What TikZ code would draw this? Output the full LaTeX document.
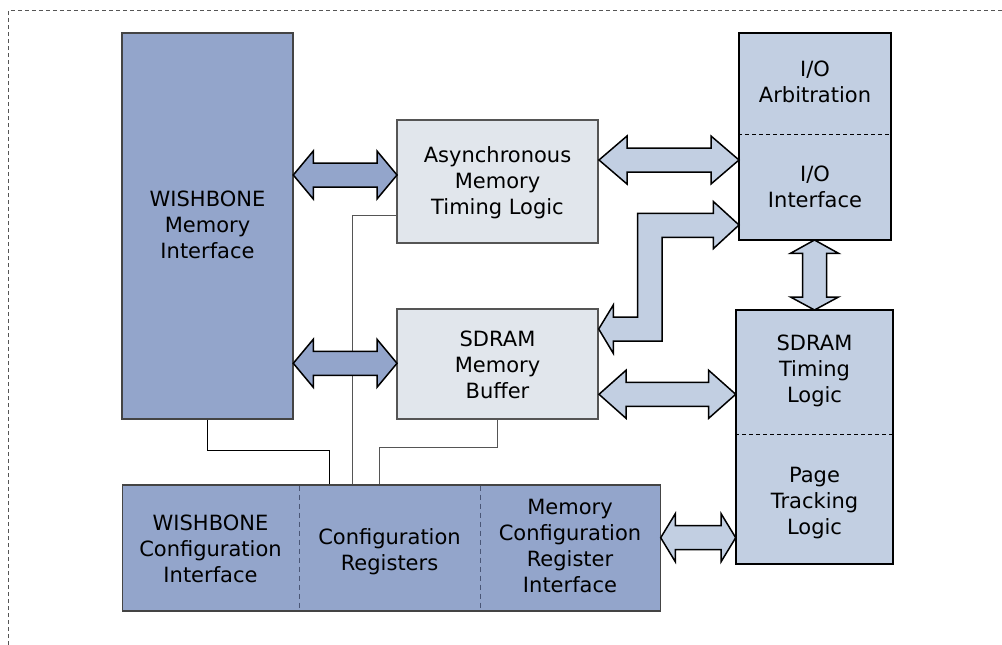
\documentclass[tikz,border=0pt]{standalone}
\usepackage{fontspec}
\setmainfont{DejaVu Sans}
\usetikzlibrary{calc}
\definecolor{darkblue}{HTML}{93A5CB}
\definecolor{lightblue}{HTML}{C2CFE2}
\definecolor{lightgray}{HTML}{E1E6EC}
\definecolor{edgegray}{HTML}{444444}
\definecolor{linegray}{HTML}{555555}
\definecolor{divblue}{HTML}{4A5676}
% horizontal double block arrow: x1, x2, y, head length
\newcommand{\hblockarrow}[5]{%
  \draw[blockarrow, fill=#5] (#1,#3) -- ({#1+#4},{#3-24}) -- ({#1+#4},{#3-12}) -- ({#2-#4},{#3-12}) -- ({#2-#4},{#3-24}) -- (#2,#3) -- ({#2-#4},{#3+24}) -- ({#2-#4},{#3+12}) -- ({#1+#4},{#3+12}) -- ({#1+#4},{#3+24}) -- cycle;}
\tikzset{
  box/.style={draw=edgegray, line width=1.2pt, inner sep=0pt, align=center},
  txt/.style={align=center, font=\fontsize{21}{26}\selectfont, inner sep=0pt},
  blockarrow/.style={draw=black, line width=1.5pt, line join=miter},
  wire/.style={line width=1pt},
}
\begin{document}
\begin{tikzpicture}[x=1pt,y=-1pt]
\useasboundingbox (0,0) rectangle (1002,645);
% outer dashed frame
\draw[linegray, line width=1pt, dash pattern=on 4pt off 3pt] (8.5,645) -- (8.5,10.5) -- (1002,10.5);

% boxes
\node[box, fill=darkblue, minimum width=171pt, minimum height=386pt] (wmi) at (207.5,226) {};
\node[txt] (wmit) at (207.5,225) {WISHBONE\\Memory\\Interface};

\node[box, draw=linegray, fill=lightgray, minimum width=201pt, minimum height=123pt] (async) at (497.5,181.5) {};
\node[txt] (asynct) at (497.5,183) {Asynchronous\\Memory\\Timing Logic};

\node[box, draw=linegray, fill=lightgray, minimum width=201pt, minimum height=110pt] (buf) at (497.5,364) {};
\node[txt] (buft) at (497.5,365) {SDRAM\\Memory\\Buffer};

\node[box, draw=black, fill=lightblue, minimum width=152pt, minimum height=207pt] (io) at (815,136.5) {};
\draw[black, line width=0.8pt, dash pattern=on 4pt off 3pt] (io.west |- 0,134) -- (io.east |- 0,134);
\node[txt] (ioa) at (815,82) {I/O\\Arbitration};
\node[txt] (ioi) at (815,187) {I/O\\Interface};

\node[box, draw=black, fill=lightblue, minimum width=157pt, minimum height=254pt] (sdt) at (814.5,437) {};
\draw[black, line width=0.8pt, dash pattern=on 4pt off 3pt] (sdt.west |- 0,434) -- (sdt.east |- 0,434);
\node[txt] (sdtt) at (814.5,371) {SDRAM\\Timing\\Logic};
\node[txt] (ptl) at (814.5,503) {Page\\Tracking\\Logic};

\node[box, fill=darkblue, minimum width=538pt, minimum height=126pt] (cfg) at (391.5,548) {};
\draw[divblue, line width=1pt, dash pattern=on 5pt off 4pt] (299,485.5) -- (299,610.5);
\draw[divblue, line width=1pt, dash pattern=on 5pt off 4pt] (480,485.5) -- (480,610.5);
\node[txt] (wci) at (210.5,549) {WISHBONE\\Configuration\\Interface};
\node[txt] (cr) at (389.5,552) {Configuration\\Registers};
\node[txt] (mcri) at (570,546) {Memory\\Configuration\\Register\\Interface};

% wires
\coordinate (c1) at (329.3,484.4);
\coordinate (c2) at (352.7,484.4);
\coordinate (c3) at (379.3,484.4);
\coordinate (a1) at (396.4,215.7);
\draw[wire, black] (wmi.south) -- ++(0,31) -| (c1);
\draw[wire, linegray] (a1) -| (c2);
\draw[wire, linegray] (buf.south) -- ++(0,28) -| (c3);

% block arrows
\hblockarrow{293.3}{397}{175}{20}{darkblue}
\hblockarrow{293.3}{397}{363.3}{20}{darkblue}
\hblockarrow{599}{739}{160}{28}{lightblue}
\hblockarrow{599}{735.7}{394.3}{27}{lightblue}
\hblockarrow{660.7}{735.7}{537.7}{14.6}{lightblue}
% vertical double arrow io <-> sdt
\draw[blockarrow, fill=lightblue] (814.5,240) -- (838.5,253.3) -- (826.5,253.3) -- (826.5,297) -- (838.5,297) -- (814.5,310) -- (790.5,297) -- (802.5,297) -- (802.5,253.3) -- (790.5,253.3) -- cycle;
% bent arrow buf <-> io
\draw[blockarrow, fill=lightblue] (598.7,329) -- (613.3,305) -- (613.3,317) -- (637.5,317) -- (637.5,213.3) -- (713.3,213.3) -- (713.3,201.5) -- (739,225) -- (713.3,248.7) -- (713.3,237.3) -- (662,237.3) -- (662,341) -- (613.3,341) -- (613.3,353.3) -- cycle;
\end{tikzpicture}
\end{document}
